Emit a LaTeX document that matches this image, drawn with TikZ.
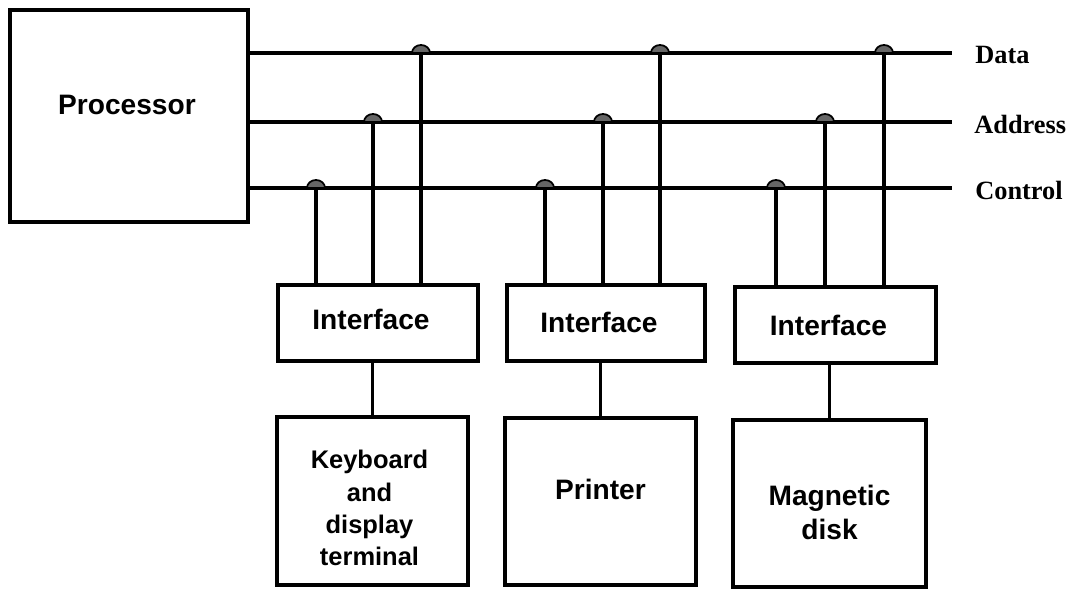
\documentclass[tikz,border=0pt]{standalone}
\usepackage{fontspec}
\usetikzlibrary{calc}
\setmainfont{Liberation Serif}
\setsansfont{Liberation Sans}
\begin{document}
\begin{tikzpicture}[x=0.02cm,y=0.02cm,
  box/.style={draw,line width=2pt,inner sep=0pt,align=center,font=\sffamily\bfseries\fontsize{16}{19}\selectfont},
  txt/.style={inner sep=0pt,align=center,font=\sffamily\bfseries\fontsize{16}{19}\selectfont},
  bus/.style={line width=2.1pt},
  lbl/.style={anchor=west,inner sep=0pt,font=\rmfamily\bfseries\fontsize{15}{18}\selectfont},
  dot/.style={fill=black!60,draw=black,line width=1pt}]
\useasboundingbox (0,0) rectangle (1068,590);
% processor
\node[box,minimum width=238*0.02cm,minimum height=212*0.02cm] (proc) at (129,474) {};
\node[txt] (proct) at (127,485) {Processor};
% bus ends
\coordinate (dend) at (952,537);
\coordinate (aend) at (952,468);
\coordinate (cend) at (952,402);
\draw[bus] (proc.east |- dend) -- (dend);
\draw[bus] (proc.east |- aend) -- (aend);
\draw[bus] (proc.east |- cend) -- (cend);
\node[lbl] (ldata) at (975,535) {Data};
\node[lbl] (laddr) at (974,466) {Address};
\node[lbl] (lctrl) at (975,400) {Control};
% interfaces
\node[box,minimum width=200*0.02cm,minimum height=76*0.02cm] (if1) at (378,267) {};
\node[box,minimum width=198*0.02cm,minimum height=76*0.02cm] (if2) at (606,267) {};
\node[box,minimum width=201*0.02cm,minimum height=76*0.02cm] (if3) at (835.5,265) {};
\node[txt] (if1t) at ($(if1.center)+(-7,4)$) {Interface};
\node[txt] (if2t) at ($(if2.center)+(-7,1)$) {Interface};
\node[txt] (if3t) at ($(if3.center)+(-7,0)$) {Interface};
% devices
\node[box,minimum width=191*0.02cm,minimum height=168*0.02cm] (dev1) at (372.5,89) {};
\node[box,minimum width=191*0.02cm,minimum height=167*0.02cm] (dev2) at (600.5,88.5) {};
\node[box,minimum width=193*0.02cm,minimum height=167*0.02cm] (dev3) at (829.5,86.5) {};
\node[txt,font=\sffamily\bfseries\fontsize{14.5}{18.3}\selectfont] (dev1t) at ($(dev1.center)+(-3,-7)$) {Keyboard\\and\\display\\terminal};
\node[txt] (dev2t) at ($(dev2.center)+(0,12)$) {Printer};
\node[txt] (dev3t) at ($(dev3.center)+(0,-9)$) {Magnetic\\disk};
% junctions
\coordinate (j1c) at (316,402); \coordinate (j1a) at (373,468); \coordinate (j1d) at (421,537);
\coordinate (j2c) at (545,402); \coordinate (j2a) at (603,468); \coordinate (j2d) at (660,537);
\coordinate (j3c) at (776,402); \coordinate (j3a) at (825,468); \coordinate (j3d) at (884,537);
\foreach \j/\i in {j1c/if1,j1a/if1,j1d/if1,j2c/if2,j2a/if2,j2d/if2,j3c/if3,j3a/if3,j3d/if3}{
  \draw[bus] (\j) -- (\j |- \i.north);
  \draw[dot] ($(\j)+(-9,0)$) arc[start angle=180,end angle=0,x radius=9,y radius=8] -- cycle;
}
% interface to device
\draw[bus] (if1.south -| dev1.north) -- (dev1.north);
\draw[bus] (if2.south -| dev2.north) -- (dev2.north);
\draw[bus] (if3.south -| dev3.north) -- (dev3.north);
\end{tikzpicture}
\end{document}
